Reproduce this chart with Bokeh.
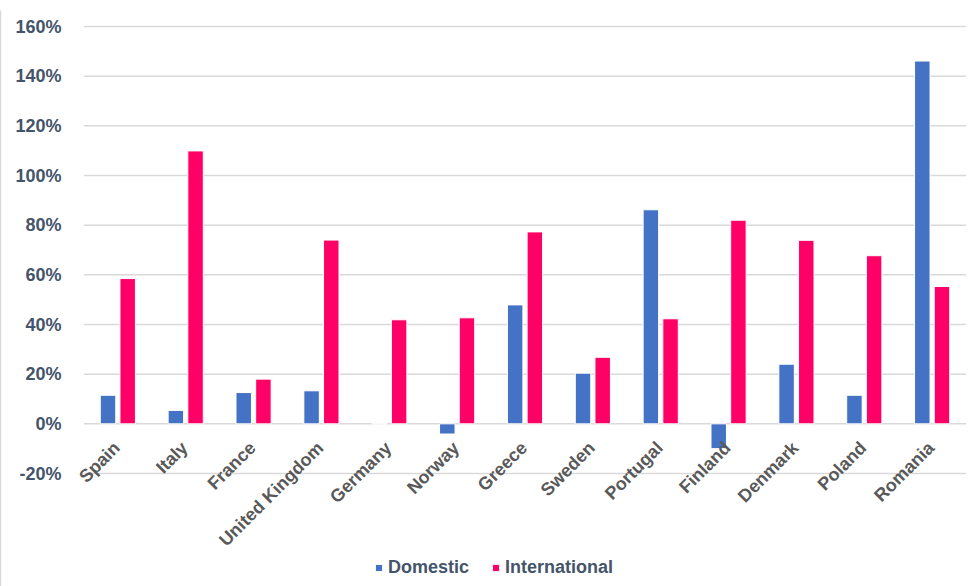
import math
from bokeh.plotting import figure
from bokeh.models import (FactorRange, Range1d, LinearAxis, FixedTicker, NumeralTickFormatter,
                          Legend, LegendItem, LabelSet, ColumnDataSource)
from bokeh.transform import dodge
from bokeh.core.properties import value
from bokeh.embed import file_html
from bokeh.resources import INLINE

countries = ["Spain", "Italy", "France", "United Kingdom", "Germany", "Norway", "Greece",
             "Sweden", "Portugal", "Finland", "Denmark", "Poland", "Romania"]
domestic = [0.115, 0.054, 0.126, 0.133, 0.0, -0.041, 0.479, 0.204, 0.862, -0.10, 0.240, 0.115, 1.461]
international = [0.585, 1.099, 0.180, 0.740, 0.419, 0.427, 0.773, 0.268, 0.423, 0.820, 0.739, 0.677, 0.553]
y_ticks = [-0.2, 0.0, 0.2, 0.4, 0.6, 0.8, 1.0, 1.2, 1.4, 1.6]

BLUE = "#4472C4"
PINK = "#FF0066"
AXIS_TXT = "#44546A"
CAT_TXT = "#595959"
FONT = "Liberation Sans"

p = figure(width=971, height=586, output_backend="svg", toolbar_location=None,
           x_range=FactorRange(*countries, range_padding=0.08, range_padding_units="absolute"),
           y_range=Range1d(-0.655, 1.7047),
           x_axis_location=None,
           min_border_left=74, min_border_right=0, min_border_top=0, min_border_bottom=0)
p.outline_line_color = None
p.xgrid.grid_line_color = None
p.ygrid.grid_line_color = None

src = ColumnDataSource(dict(country=countries, domestic=domestic, international=international,
                            zero=[0.0] * len(countries)))

# horizontal gridlines spanning the category area
grid_src = ColumnDataSource(dict(y=y_ticks,
                                 first=[countries[0]] * len(y_ticks),
                                 last=[countries[-1]] * len(y_ticks)))
p.segment(x0=dodge("first", -0.5, range=p.x_range), x1=dodge("last", 0.5, range=p.x_range),
          y0="y", y1="y", source=grid_src, line_color="#d9d9d9", line_width=1.5)

r_dom = p.vbar(x=dodge("country", -0.145, range=p.x_range), top="domestic", bottom=0,
               width=0.228, source=src, fill_color=BLUE, line_color="#ffffff", line_width=1)
r_int = p.vbar(x=dodge("country", 0.145, range=p.x_range), top="international", bottom=0,
               width=0.228, source=src, fill_color=PINK, line_color="#ffffff", line_width=1)

# y axis
ya = p.yaxis[0]
ya.ticker = FixedTicker(ticks=y_ticks)
ya.formatter = NumeralTickFormatter(format="0%")
ya.axis_line_color = None
ya.major_tick_line_color = None
ya.minor_tick_line_color = None
ya.major_label_standoff = 11
ya.major_label_text_font = FONT
ya.major_label_text_font_style = "bold"
ya.major_label_text_font_size = "18px"
ya.major_label_text_color = AXIS_TXT
ya.axis_label = " "
ya.axis_label_standoff = 0
ya.axis_label_text_font_size = "8px"

# chart border line on the left
border_axis = LinearAxis(ticker=FixedTicker(ticks=[]), bounds=(-0.655, 1.664),
                         axis_line_color="#d9d9d9", axis_line_width=1.5,
                         major_tick_line_color=None, minor_tick_line_color=None,
                         major_label_text_font_size="0px")
p.add_layout(border_axis, "left")

# category labels sitting at the zero line
cat_labels = LabelSet(x="country", y="zero", text="country", source=src,
                      angle=math.radians(45), text_align="right", text_baseline="middle",
                      x_offset=-1, y_offset=-21,
                      text_font=value(FONT), text_font_style="bold", text_font_size="18px",
                      text_color=CAT_TXT)
p.add_layout(cat_labels)

legend = Legend(items=[LegendItem(label="Domestic", renderers=[r_dom]),
                       LegendItem(label="International", renderers=[r_int])],
                orientation="horizontal", location=(296, 8),
                border_line_color=None, background_fill_alpha=0,
                glyph_width=9, glyph_height=9, label_standoff=5, spacing=22,
                padding=0, margin=0,
                label_text_font=FONT, label_text_font_style="bold",
                label_text_font_size="18px", label_text_color=AXIS_TXT)
p.add_layout(legend)

open("out.html", "w").write(file_html(p, INLINE))
